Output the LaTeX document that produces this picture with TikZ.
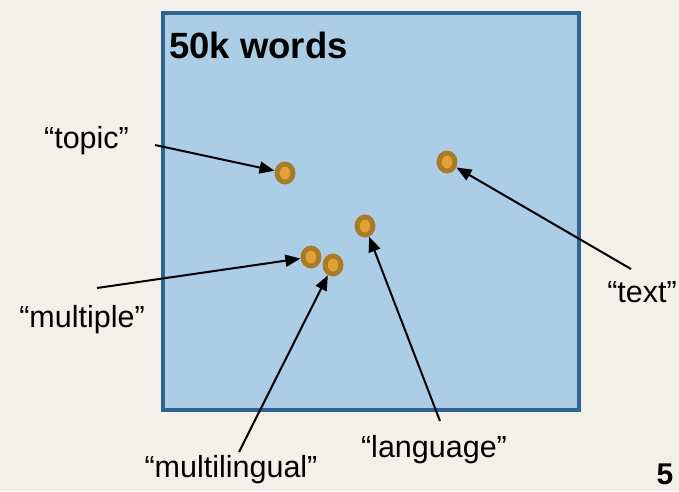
\documentclass[tikz,border=0pt]{standalone}
\usepackage{fontspec}
\setmainfont{Liberation Sans}
\usetikzlibrary{arrows.meta,shapes.geometric}
\definecolor{paper}{HTML}{F3F0EA}
\definecolor{boxfill}{HTML}{ABCDE6}
\definecolor{boxline}{HTML}{2F6391}
\definecolor{dotouter}{HTML}{A87B27}
\definecolor{dotinner}{HTML}{E2A236}
\tikzset{
  worddot/.style={ellipse, minimum width=21pt, minimum height=23pt, inner sep=0pt,
    fill=dotouter, path picture={\fill[dotinner] (path picture bounding box.center) ellipse (5.2pt and 6.5pt);}},
  wordlabel/.style={font=\fontsize{30.5}{32}\selectfont, inner sep=0pt, anchor=base},
  pointer/.style={line width=2pt, -{Triangle[length=15pt, width=12pt]}},
}
\begin{document}
\begin{tikzpicture}[x=1pt, y=-1pt]
  \fill[paper] (0,0) rectangle (679,491);
  \useasboundingbox (0,0) rectangle (679,491);
  \node[draw=boxline, line width=4pt, fill=boxfill, minimum width=416pt, minimum height=397pt, inner sep=0pt, anchor=north west] (space) at (161,11) {};
  \node[anchor=base west, font=\bfseries\fontsize{36.5}{38}\selectfont, inner sep=0pt] (title) at (169,58) {50k words};

  \node[worddot] (dtopic) at (285,173) {};
  \node[worddot] (dtext) at (447,162) {};
  \node[worddot] (dlang) at (365,226) {};
  \node[worddot] (dmult) at (311,257) {};
  \node[worddot] (dmling) at (333,265) {};

  \node[wordlabel] (ltopic) at (86.5,148) {“topic”};
  \node[wordlabel] (ltext) at (642,302) {“text”};
  \node[wordlabel] (lmult) at (82,327) {“multiple”};
  \node[wordlabel] (lmling) at (231,477) {“multilingual”};
  \node[wordlabel] (llang) at (434,457) {“language”};
  \node[font=\bfseries\fontsize{30}{32}\selectfont, inner sep=0pt, anchor=base] (page) at (665,484) {5};

  \coordinate (stopic) at (155,145);
  \coordinate (stext) at (631,269);
  \coordinate (smult) at (97,288);
  \coordinate (smling) at (239,452);
  \coordinate (slang) at (440,421);

  \draw[pointer] (stopic) -- (dtopic);
  \draw[pointer] (stext) -- (dtext);
  \draw[pointer] (smult) -- (dmult);
  \draw[pointer] (smling) -- (dmling);
  \draw[pointer] (slang) -- (dlang);
\end{tikzpicture}
\end{document}
